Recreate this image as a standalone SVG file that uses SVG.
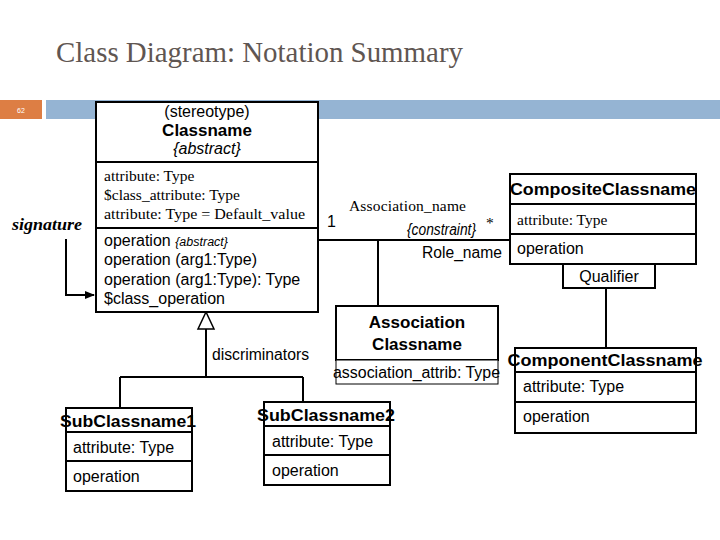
<svg xmlns="http://www.w3.org/2000/svg" width="720" height="540" viewBox="0 0 720 540">
<defs>
<style>
.box{fill:#fff;stroke:#000;stroke-width:2}
.ln{fill:none;stroke:#000;stroke-width:2}
.sans{font-family:"Liberation Sans",Arial,sans-serif;font-size:16px;fill:#000}
.serif{font-family:"Liberation Serif","Times New Roman",serif;font-size:15.5px;fill:#000}
.bold{font-family:"Liberation Sans",Arial,sans-serif;font-weight:bold;font-size:17px;fill:#000}
.it{font-style:italic}
.mid{text-anchor:middle}
</style>
<marker id="arr" viewBox="0 0 10 10" refX="9" refY="5" markerWidth="10" markerHeight="10" markerUnits="userSpaceOnUse" orient="auto">
<path d="M0,1 L10,5 L0,9 z" fill="#000"/>
</marker>
</defs>
<rect width="720" height="540" fill="#fff"/>
<text x="56" y="62" font-family="'Liberation Serif','Times New Roman',serif" font-size="29" fill="#5f5652" textLength="407" lengthAdjust="spacingAndGlyphs">Class Diagram: Notation Summary</text>
<rect x="0" y="100" width="42" height="19" fill="#dd7e44"/>
<text x="21" y="113" font-family="'Liberation Sans',Arial,sans-serif" font-size="7" fill="#fff" text-anchor="middle">62</text>
<rect x="46" y="100" width="674" height="19" fill="#95b4d3"/>

<g id="connectors">
<path class="ln" d="M66,239 V295 H94" marker-end="url(#arr)"/>
<path class="ln" d="M318,240 H510"/>
<path class="ln" d="M378,240 V306"/>
<path class="ln" d="M606,288 V348"/>
<path class="ln" d="M206,329 V377 M120,377 H303 M120,377 V408 M303,377 V402"/>
<path d="M206,312 L198,329 L214,329 z" fill="#fff" stroke="#000" stroke-width="1.5"/>
<text class="sans" x="327" y="227">1</text>
<text class="serif" x="349" y="211" font-size="14" textLength="117" lengthAdjust="spacing">Association_name</text>
<text class="sans it" x="407" y="235" font-size="13" textLength="69" lengthAdjust="spacingAndGlyphs">{constraint}</text>
<text class="serif" x="486" y="228" font-size="16">*</text>
<text class="sans" x="422" y="258" textLength="80" lengthAdjust="spacingAndGlyphs">Role_name</text>
<text class="sans" x="212" y="360" textLength="97" lengthAdjust="spacingAndGlyphs">discriminators</text>
</g>

<g id="signature">
<text x="12" y="230" font-family="'Liberation Serif','Times New Roman',serif" font-weight="bold" font-style="italic" font-size="17" textLength="70" lengthAdjust="spacingAndGlyphs">signature</text>
</g>

<g id="classname">
<rect class="box" x="96" y="102" width="222" height="210"/>
<path class="ln" d="M96,162 H318 M96,228 H318"/>
<text class="sans mid" x="207" y="117">(stereotype)</text>
<text class="bold mid" x="207" y="136">Classname</text>
<text class="sans it mid" x="207" y="154" font-size="12.5">{abstract}</text>
<text class="serif" x="104" y="181">attribute: Type</text>
<text class="serif" x="104" y="200">$class_attribute: Type</text>
<text class="serif" x="104" y="219" textLength="201" lengthAdjust="spacingAndGlyphs">attribute: Type = Default_value</text>
<text class="sans" x="104" y="246">operation <tspan class="it" font-size="12.5">{abstract}</tspan></text>
<text class="sans" x="104" y="265">operation (arg1:Type)</text>
<text class="sans" x="104" y="285">operation (arg1:Type): Type</text>
<text class="sans" x="104" y="304">$class_operation</text>
</g>

<g id="composite">
<rect class="box" x="510" y="174" width="186" height="90"/>
<path class="ln" d="M510,204 H696 M510,234 H696"/>
<text class="bold mid" x="603" y="195" textLength="186" lengthAdjust="spacingAndGlyphs">CompositeClassname</text>
<text class="serif" x="517" y="225" font-size="15">attribute: Type</text>
<text class="sans" x="517" y="254">operation</text>
</g>

<g id="qualifier">
<rect class="box" x="563" y="264" width="92" height="24"/>
<text class="sans mid" x="609" y="282">Qualifier</text>
</g>

<g id="association-class">
<rect class="box" x="336" y="306" width="162" height="54"/>
<rect x="336" y="360" width="162" height="24" fill="#fff" stroke="#000" stroke-width="1"/>
<text class="bold mid" x="417" y="328">Association</text>
<text class="bold mid" x="417" y="350">Classname</text>
<text class="sans" x="333" y="378" textLength="167" lengthAdjust="spacingAndGlyphs">association_attrib: Type</text>
</g>

<g id="component">
<rect class="box" x="515" y="348" width="181" height="85"/>
<path class="ln" d="M515,372 H696 M515,402 H696"/>
<text class="bold mid" x="605" y="366" textLength="195" lengthAdjust="spacingAndGlyphs">ComponentClassname</text>
<text class="sans" x="523" y="392">attribute: Type</text>
<text class="sans" x="523" y="422">operation</text>
</g>

<g id="sub1">
<rect class="box" x="66" y="408" width="126" height="83"/>
<path class="ln" d="M66,432 H192 M66,461 H192"/>
<text class="bold mid" x="128" y="427" textLength="136" lengthAdjust="spacingAndGlyphs">SubClassname1</text>
<text class="sans" x="73" y="453">attribute: Type</text>
<text class="sans" x="73" y="482">operation</text>
</g>

<g id="sub2">
<rect class="box" x="264" y="402" width="126" height="83"/>
<path class="ln" d="M264,426 H390 M264,455 H390"/>
<text class="bold mid" x="326" y="421" textLength="138" lengthAdjust="spacingAndGlyphs">SubClassname2</text>
<text class="sans" x="272" y="447">attribute: Type</text>
<text class="sans" x="272" y="476">operation</text>
</g>
</svg>
